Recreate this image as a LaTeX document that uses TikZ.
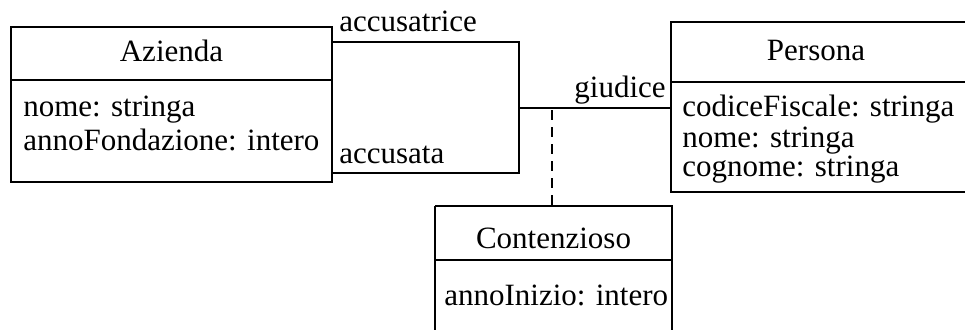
\documentclass[tikz,border=0pt]{standalone}
\usepackage{fontspec}
\setmainfont{Liberation Serif}
\begin{document}
\begin{tikzpicture}[x=1pt,y=-1pt,
  line width=2.6pt,
  txt/.style={inner sep=0pt,font=\fontsize{31}{31}\selectfont},
  ln/.style={line width=2.6pt},
  dsh/.style={line width=2.6pt,dash pattern=on 10pt off 7pt}]
\useasboundingbox (0,0) rectangle (965,329);
\clip (0,0) rectangle (965,329);
% Azienda
\draw (11,27) rectangle (332,182);
\draw (11,80) -- (332,80);
\node[txt,anchor=base] (azt) at (171.5,61) {Azienda};
\node[txt,anchor=base west] (aza1) at (22,116) {nome: stringa};
\node[txt,anchor=base west] (aza2) at (22,150) {annoFondazione: intero};
% Persona
\draw (671,22) rectangle (990,192);
\draw (671,82) -- (990,82);
\node[txt,anchor=base] (pt) at (816,60) {Persona};
\node[txt,anchor=base west] (pa1) at (681,116) {codiceFiscale: stringa};
\node[txt,anchor=base west] (pa2) at (681,147) {nome: stringa};
\node[txt,anchor=base west] (pa3) at (681,176) {cognome: stringa};
% Contenzioso
\draw (435,206) -- (672,206) -- (672,340) (435,206) -- (435,340);
\draw (435,260) -- (672,260);
\node[txt,anchor=base] (ct) at (553.5,248) {Contenzioso};
\node[txt,anchor=base west] (ca1) at (443,305) {annoInizio: intero};
% association
\coordinate (a1) at (332,42);
\coordinate (a2) at (519,42);
\coordinate (a3) at (519,173);
\coordinate (a4) at (332,173);
\coordinate (g1) at (519,108);
\coordinate (g2) at (671,108);
\coordinate (d1) at (552,110);
\coordinate (d2) at (552,206);
\draw[ln] (a1) -- (a2) -- (a3) -- (a4);
\draw[ln] (g1) -- (g2);
\draw[dsh] (d1) -- (d2);
\node[txt,anchor=base west] (l1) at (338,32) {accusatrice};
\node[txt,anchor=base west] (l2) at (338,163) {accusata};
\node[txt,anchor=base east] (l3) at (667,97) {giudice};
\end{tikzpicture}
\end{document}
